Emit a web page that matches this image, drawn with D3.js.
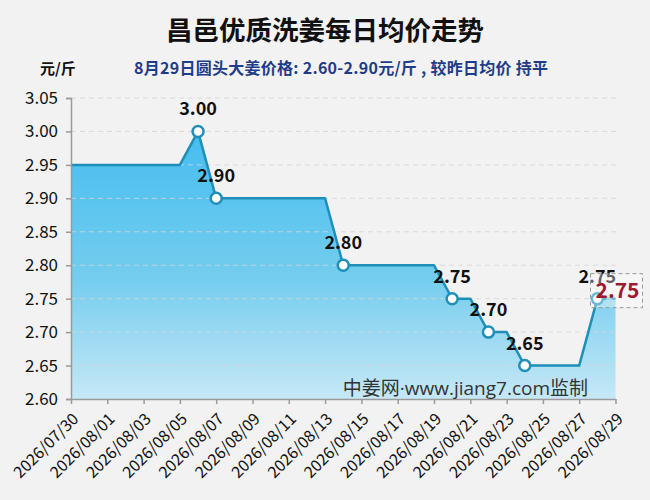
<!DOCTYPE html>
<html>
<head>
<meta charset="utf-8">
<script src="https://cdn.jsdelivr.net/npm/d3@7"></script>
<style>
	html, body { margin: 0; padding: 0; background: #f2f2f2; }
	svg { display: block; }
</style>
</head>
<body>
<div class="chart"></div>
<script>
/*  ======== Data ============= */
var titleText = '昌邑优质洗姜每日均价走势';
var unitText = '元/斤';
var noteText = '8月29日圆头大姜价格: 2.60-2.90元/斤 , 较昨日均价 持平';
var sourceText = '中姜网·www.jiang7.com监制';
var dates = ['2026/07/30','2026/07/31','2026/08/01','2026/08/02','2026/08/03','2026/08/04','2026/08/05',
			'2026/08/06','2026/08/07','2026/08/08','2026/08/09','2026/08/10','2026/08/11','2026/08/12',
			'2026/08/13','2026/08/14','2026/08/15','2026/08/16','2026/08/17','2026/08/18','2026/08/19',
			'2026/08/20','2026/08/21','2026/08/22','2026/08/23','2026/08/24','2026/08/25','2026/08/26',
			'2026/08/27','2026/08/28','2026/08/29'];
var prices = [2.95,2.95,2.95,2.95,2.95,2.95,2.95,
			3.00,2.90,2.90,2.90,2.90,2.90,2.90,
			2.90,2.80,2.80,2.80,2.80,2.80,2.80,
			2.75,2.75,2.70,2.70,2.65,2.65,2.65,
			2.65,2.75,2.75];
var yTicks = [2.60,2.65,2.70,2.75,2.80,2.85,2.90,2.95,3.00,3.05];
/*  ======== Data ============= */

var width = 650, height = 500;
var marginLeft = 71, marginRight = 34.5, marginTop = 98, marginBottom = 101;
var lineColor = '#1f8fb8';
var fontFamily = '"Noto Sans CJK SC", "Noto Sans", sans-serif';

var parseDate = d3.timeParse('%Y/%m/%d');
var formatDate = d3.timeFormat('%Y/%m/%d');
var points = dates.map(function(d, i){ return {date: parseDate(d), value: prices[i]}; });

var svg = d3.select('.chart')
			.append('svg')
			.attr('width', width)
			.attr('height', height);
svg.append('rect')
	.attr('width', width)
	.attr('height', height)
	.attr('fill', '#f2f2f2');

var x = d3.scaleTime()
		.domain(d3.extent(points, function(d){ return d.date; }))
		.range([marginLeft, width - marginRight]);
var y = d3.scaleLinear()
		.domain([2.60, 3.05])
		.range([height - marginBottom, marginTop]);

var defs = svg.append('defs');
var gradient = defs.append('linearGradient')
				.attr('id', 'areaGradient')
				.attr('x1', '0%').attr('y1', '0%')
				.attr('x2', '0%').attr('y2', '100%');
gradient.append('stop').attr('offset', '0%').attr('stop-color', '#45bdf0');
gradient.append('stop').attr('offset', '55%').attr('stop-color', '#74cdee');
gradient.append('stop').attr('offset', '100%').attr('stop-color', '#c6e8f6');

// area
var area = d3.area()
			.x(function(d){ return x(d.date); })
			.y0(y(2.60))
			.y1(function(d){ return y(d.value); });
svg.append('path')
	.datum(points)
	.attr('d', area)
	.attr('fill', 'url(#areaGradient)');

// grid lines
svg.append('g')
	.selectAll('line')
	.data(yTicks.slice(1))
	.enter()
	.append('line')
	.attr('x1', marginLeft)
	.attr('x2', width - marginRight + 2)
	.attr('y1', function(d){ return y(d); })
	.attr('y2', function(d){ return y(d); })
	.attr('stroke', '#d4d4d4')
	.attr('stroke-opacity', 0.8)
	.attr('stroke-dasharray', '5,4');

// line
var line = d3.line()
			.x(function(d){ return x(d.date); })
			.y(function(d){ return y(d.value); });
svg.append('path')
	.datum(points)
	.attr('d', line)
	.attr('fill', 'none')
	.attr('stroke', lineColor)
	.attr('stroke-width', 2.5)
	.attr('stroke-linejoin', 'round');

// axes
var yAxis = svg.append('g')
			.attr('transform', 'translate(' + marginLeft + ',0)')
			.call(d3.axisLeft(y).tickValues(yTicks).tickFormat(d3.format('.2f')).tickSize(5).tickPadding(8));
var xAxis = svg.append('g')
			.attr('transform', 'translate(0,' + y(2.60) + ')')
			.call(d3.axisBottom(x)
				.tickValues(points.filter(function(d, i){ return i % 2 == 0; }).map(function(d){ return d.date; }))
				.tickFormat(formatDate)
				.tickSize(5)
				.tickSizeOuter(0));
[xAxis, yAxis].forEach(function(ax){
	ax.select('.domain').attr('stroke', '#9a9a9a').attr('stroke-width', 1.5);
	ax.selectAll('.tick line').attr('stroke', '#9a9a9a').attr('stroke-width', 1.5);
	ax.selectAll('text').attr('fill', '#111').attr('font-family', fontFamily);
});
yAxis.selectAll('text').attr('font-size', 17);
xAxis.selectAll('text')
	.attr('font-size', 16)
	.attr('text-anchor', 'end')
	.attr('x', 0)
	.attr('y', 0)
	.attr('dy', '0.35em')
	.attr('transform', 'translate(4,17) rotate(-45)');

// markers at changes
var changed = points.filter(function(d, i){ return i > 0 && i < points.length - 1 && d.value != points[i-1].value; });
svg.append('g')
	.selectAll('circle')
	.data(changed)
	.enter()
	.append('circle')
	.attr('cx', function(d){ return x(d.date); })
	.attr('cy', function(d){ return y(d.value); })
	.attr('r', 5.5)
	.attr('fill', 'white')
	.attr('stroke', lineColor)
	.attr('stroke-width', 2.5);
svg.append('g')
	.selectAll('text')
	.data(changed)
	.enter()
	.append('text')
	.attr('x', function(d){ return x(d.date); })
	.attr('y', function(d){ return y(d.value) - 16; })
	.attr('text-anchor', 'middle')
	.attr('font-size', 18)
	.attr('font-weight', 'bold')
	.attr('font-family', fontFamily)
	.attr('fill', '#111')
	.text(function(d){ return d3.format('.2f')(d.value); });

// last point label
var last = points[points.length - 1];
var lx = x(last.date), ly = y(last.value);
svg.append('path')
	.attr('d', 'M' + (lx - 9) + ',' + (ly - 3) + 'L' + (lx + 1) + ',' + (ly + 3) + 'L' + (lx - 9) + ',' + (ly + 9) + 'Z')
	.attr('fill', '#8fd3f0')
	.attr('opacity', 0.8);
svg.append('rect')
	.attr('x', lx - 25)
	.attr('y', ly - 25)
	.attr('width', 52)
	.attr('height', 34)
	.attr('fill', 'rgba(255,255,255,0.35)')
	.attr('stroke', '#999')
	.attr('stroke-dasharray', '4,3');
svg.append('text')
	.attr('x', lx + 2)
	.attr('y', ly - 1)
	.attr('text-anchor', 'middle')
	.attr('font-size', 21)
	.attr('font-weight', 'bold')
	.attr('font-family', fontFamily)
	.attr('fill', '#9b1b30')
	.text(d3.format('.2f')(last.value));

// watermark
svg.append('text')
	.attr('x', 588)
	.attr('y', 395)
	.attr('text-anchor', 'end')
	.attr('font-size', 19)
	.attr('font-family', '"Open Sans", "Noto Sans CJK SC", sans-serif')
	.attr('fill', '#333')
	.text(sourceText);

// titles
svg.append('text')
	.attr('x', 325)
	.attr('y', 40)
	.attr('text-anchor', 'middle')
	.attr('font-size', 26.5)
	.attr('font-weight', 'bold')
	.attr('font-family', fontFamily)
	.attr('fill', '#111')
	.text(titleText);
svg.append('text')
	.attr('x', 40)
	.attr('y', 74)
	.attr('font-size', 15)
	.attr('font-weight', 'bold')
	.attr('font-family', fontFamily)
	.attr('fill', '#111')
	.text(unitText);
svg.append('text')
	.attr('x', 134)
	.attr('y', 74)
	.attr('font-size', 16)
	.attr('font-weight', 'bold')
	.attr('font-family', fontFamily)
	.attr('fill', '#1f3c88')
	.attr('textLength', 414)
	.attr('lengthAdjust', 'spacing')
	.text(noteText);
</script>
</body>
</html>
